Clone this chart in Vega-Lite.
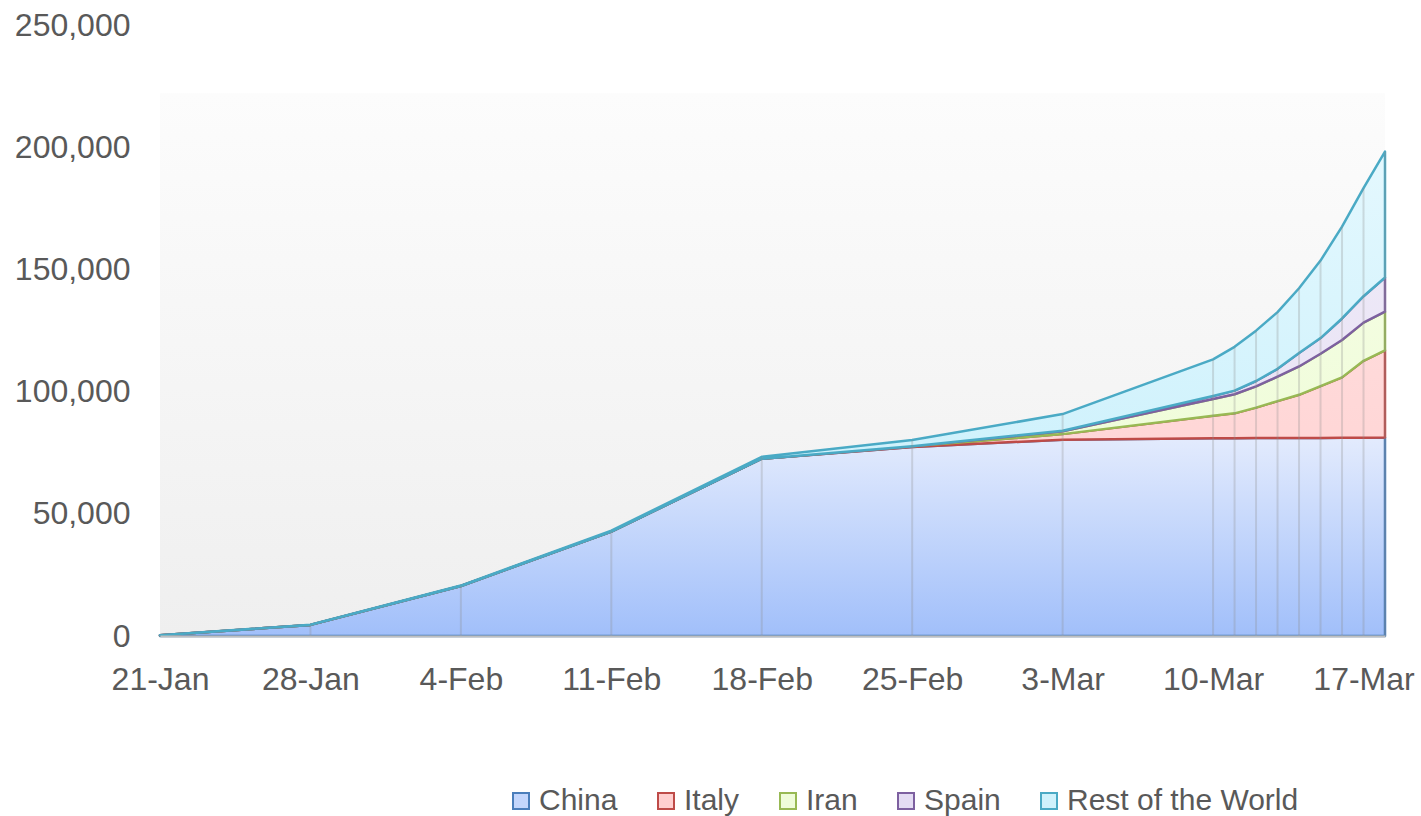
{
  "$schema": "https://vega.github.io/schema/vega-lite/v6.json",
  "width": 1225,
  "height": 611,
  "autosize": {"type": "none"},
  "padding": {"left": 160, "top": 25, "right": 36, "bottom": 180},
  "background": "#ffffff",
  "config": {"view": {"stroke": null}, "font": "Liberation Sans"},
  "data": {"values": [
    {"date": "2020-01-21", "series": "China", "k": 1, "value": 278},
    {"date": "2020-01-21", "series": "Italy", "k": 2, "value": 0},
    {"date": "2020-01-21", "series": "Iran", "k": 3, "value": 0},
    {"date": "2020-01-21", "series": "Spain", "k": 4, "value": 0},
    {"date": "2020-01-21", "series": "Rest of the World", "k": 5, "value": 4},
    {"date": "2020-01-28", "series": "China", "k": 1, "value": 4537},
    {"date": "2020-01-28", "series": "Italy", "k": 2, "value": 0},
    {"date": "2020-01-28", "series": "Iran", "k": 3, "value": 0},
    {"date": "2020-01-28", "series": "Spain", "k": 4, "value": 0},
    {"date": "2020-01-28", "series": "Rest of the World", "k": 5, "value": 56},
    {"date": "2020-02-04", "series": "China", "k": 1, "value": 20471},
    {"date": "2020-02-04", "series": "Italy", "k": 2, "value": 2},
    {"date": "2020-02-04", "series": "Iran", "k": 3, "value": 0},
    {"date": "2020-02-04", "series": "Spain", "k": 4, "value": 1},
    {"date": "2020-02-04", "series": "Rest of the World", "k": 5, "value": 159},
    {"date": "2020-02-11", "series": "China", "k": 1, "value": 42708},
    {"date": "2020-02-11", "series": "Italy", "k": 2, "value": 3},
    {"date": "2020-02-11", "series": "Iran", "k": 3, "value": 0},
    {"date": "2020-02-11", "series": "Spain", "k": 4, "value": 2},
    {"date": "2020-02-11", "series": "Rest of the World", "k": 5, "value": 393},
    {"date": "2020-02-18", "series": "China", "k": 1, "value": 72528},
    {"date": "2020-02-18", "series": "Italy", "k": 2, "value": 3},
    {"date": "2020-02-18", "series": "Iran", "k": 3, "value": 0},
    {"date": "2020-02-18", "series": "Spain", "k": 4, "value": 2},
    {"date": "2020-02-18", "series": "Rest of the World", "k": 5, "value": 799},
    {"date": "2020-02-25", "series": "China", "k": 1, "value": 77362},
    {"date": "2020-02-25", "series": "Italy", "k": 2, "value": 229},
    {"date": "2020-02-25", "series": "Iran", "k": 3, "value": 61},
    {"date": "2020-02-25", "series": "Spain", "k": 4, "value": 2},
    {"date": "2020-02-25", "series": "Rest of the World", "k": 5, "value": 2540},
    {"date": "2020-03-03", "series": "China", "k": 1, "value": 80304},
    {"date": "2020-03-03", "series": "Italy", "k": 2, "value": 2300},
    {"date": "2020-03-03", "series": "Iran", "k": 3, "value": 1200},
    {"date": "2020-03-03", "series": "Spain", "k": 4, "value": 200},
    {"date": "2020-03-03", "series": "Rest of the World", "k": 5, "value": 6800},
    {"date": "2020-03-10", "series": "China", "k": 1, "value": 80924},
    {"date": "2020-03-10", "series": "Italy", "k": 2, "value": 9172},
    {"date": "2020-03-10", "series": "Iran", "k": 3, "value": 6900},
    {"date": "2020-03-10", "series": "Spain", "k": 4, "value": 1200},
    {"date": "2020-03-10", "series": "Rest of the World", "k": 5, "value": 15000},
    {"date": "2020-03-11", "series": "China", "k": 1, "value": 80955},
    {"date": "2020-03-11", "series": "Italy", "k": 2, "value": 10149},
    {"date": "2020-03-11", "series": "Iran", "k": 3, "value": 7800},
    {"date": "2020-03-11", "series": "Spain", "k": 4, "value": 1500},
    {"date": "2020-03-11", "series": "Rest of the World", "k": 5, "value": 17900},
    {"date": "2020-03-12", "series": "China", "k": 1, "value": 80981},
    {"date": "2020-03-12", "series": "Italy", "k": 2, "value": 12462},
    {"date": "2020-03-12", "series": "Iran", "k": 3, "value": 8700},
    {"date": "2020-03-12", "series": "Spain", "k": 4, "value": 2200},
    {"date": "2020-03-12", "series": "Rest of the World", "k": 5, "value": 20600},
    {"date": "2020-03-13", "series": "China", "k": 1, "value": 80991},
    {"date": "2020-03-13", "series": "Italy", "k": 2, "value": 15113},
    {"date": "2020-03-13", "series": "Iran", "k": 3, "value": 10000},
    {"date": "2020-03-13", "series": "Spain", "k": 4, "value": 3200},
    {"date": "2020-03-13", "series": "Rest of the World", "k": 5, "value": 23200},
    {"date": "2020-03-14", "series": "China", "k": 1, "value": 81021},
    {"date": "2020-03-14", "series": "Italy", "k": 2, "value": 17660},
    {"date": "2020-03-14", "series": "Iran", "k": 3, "value": 11600},
    {"date": "2020-03-14", "series": "Spain", "k": 4, "value": 5500},
    {"date": "2020-03-14", "series": "Rest of the World", "k": 5, "value": 26500},
    {"date": "2020-03-15", "series": "China", "k": 1, "value": 81048},
    {"date": "2020-03-15", "series": "Italy", "k": 2, "value": 21157},
    {"date": "2020-03-15", "series": "Iran", "k": 3, "value": 13300},
    {"date": "2020-03-15", "series": "Spain", "k": 4, "value": 6400},
    {"date": "2020-03-15", "series": "Rest of the World", "k": 5, "value": 31700},
    {"date": "2020-03-16", "series": "China", "k": 1, "value": 81077},
    {"date": "2020-03-16", "series": "Italy", "k": 2, "value": 24747},
    {"date": "2020-03-16", "series": "Iran", "k": 3, "value": 15300},
    {"date": "2020-03-16", "series": "Spain", "k": 4, "value": 8800},
    {"date": "2020-03-16", "series": "Rest of the World", "k": 5, "value": 37600},
    {"date": "2020-03-17", "series": "China", "k": 1, "value": 81116},
    {"date": "2020-03-17", "series": "Italy", "k": 2, "value": 31506},
    {"date": "2020-03-17", "series": "Iran", "k": 3, "value": 15600},
    {"date": "2020-03-17", "series": "Spain", "k": 4, "value": 10800},
    {"date": "2020-03-17", "series": "Rest of the World", "k": 5, "value": 44200},
    {"date": "2020-03-18", "series": "China", "k": 1, "value": 81174},
    {"date": "2020-03-18", "series": "Italy", "k": 2, "value": 35713},
    {"date": "2020-03-18", "series": "Iran", "k": 3, "value": 15800},
    {"date": "2020-03-18", "series": "Spain", "k": 4, "value": 14000},
    {"date": "2020-03-18", "series": "Rest of the World", "k": 5, "value": 51500}
  ]},
  "transform": [
    {"stack": "value", "groupby": ["date"], "sort": [{"field": "k", "order": "ascending"}], "as": ["lo", "hi"]}
  ],
  "encoding": {
    "x": {"field": "date", "type": "temporal", "title": null,
      "scale": {"type": "utc", "nice": false, "domain": [{"year": 2020, "month": 1, "date": 21, "utc": true}, {"year": 2020, "month": 3, "date": 18, "utc": true}]},
      "axis": {
        "values": [
          {"year": 2020, "month": 1, "date": 21, "utc": true},
          {"year": 2020, "month": 1, "date": 28, "utc": true},
          {"year": 2020, "month": 2, "date": 4, "utc": true},
          {"year": 2020, "month": 2, "date": 11, "utc": true},
          {"year": 2020, "month": 2, "date": 18, "utc": true},
          {"year": 2020, "month": 2, "date": 25, "utc": true},
          {"year": 2020, "month": 3, "date": 3, "utc": true},
          {"year": 2020, "month": 3, "date": 10, "utc": true},
          {"year": 2020, "month": 3, "date": 17, "utc": true}
        ],
        "labelExpr": "utcFormat(datum.value, '%-d-%b')",
        "grid": false, "ticks": false, "tickSize": 0, "zindex": 1,
        "domain": true, "domainColor": "#bfbfbf", "domainWidth": 2,
        "labelPadding": 28, "labelFontSize": 32, "labelColor": "#595959", "labelFont": "Liberation Sans",
        "labelOverlap": false, "labelBound": false, "labelFlush": false
      }
    },
    "y": {"field": "hi", "type": "quantitative", "title": null,
      "scale": {"domain": [0, 250000], "nice": false, "zero": true},
      "axis": {
        "values": [0, 50000, 100000, 150000, 200000, 250000],
        "labelExpr": "format(datum.value, ',')",
        "grid": false, "ticks": false, "tickSize": 0, "domain": false,
        "labelPadding": 30, "labelFontSize": 32, "labelColor": "#595959", "labelFont": "Liberation Sans",
        "labelOverlap": false, "labelBound": false, "labelFlush": false
      }
    }
  },
  "layer": [
    {
      "transform": [{"filter": "datum.k == 5"}],
      "mark": {"type": "rect", "fill": {"gradient": "linear", "x1": 0, "y1": 0, "x2": 0, "y2": 1, "stops": [{"offset": 0, "color": "#fcfcfc"}, {"offset": 1, "color": "#efefef"}]}},
      "encoding": {
        "x": {"datum": {"year": 2020, "month": 1, "date": 21, "utc": true}, "type": "temporal", "title": null},
        "x2": {"datum": {"year": 2020, "month": 3, "date": 18, "utc": true}},
        "y": {"datum": 0, "type": "quantitative", "title": null},
        "y2": {"datum": 222000}
      }
    },
    {
      "transform": [{"filter": "datum.k == 1"}],
      "mark": {"type": "area", "stroke": "#4a7ebb", "strokeWidth": 2.5, "strokeJoin": "round", "fill": {"gradient": "linear", "x1": 0, "y1": 0, "x2": 0, "y2": 1, "stops": [{"offset": 0, "color": "#e3ebfd"}, {"offset": 1, "color": "#a1bffa"}]}},
      "encoding": {"y2": {"field": "lo"}}
    },
    {
      "transform": [{"filter": "datum.k == 2"}],
      "mark": {"type": "area", "stroke": "#be4b48", "strokeWidth": 2.5, "strokeJoin": "round", "fill": {"gradient": "linear", "x1": 0, "y1": 0, "x2": 0, "y2": 1, "stops": [{"offset": 0, "color": "#ffdada"}, {"offset": 1, "color": "#ffcfcf"}]}},
      "encoding": {"y2": {"field": "lo"}}
    },
    {
      "transform": [{"filter": "datum.k == 3"}],
      "mark": {"type": "area", "stroke": "#98b954", "strokeWidth": 2.5, "strokeJoin": "round", "fill": {"gradient": "linear", "x1": 0, "y1": 0, "x2": 0, "y2": 1, "stops": [{"offset": 0, "color": "#f3fde0"}, {"offset": 1, "color": "#ebfbd2"}]}},
      "encoding": {"y2": {"field": "lo"}}
    },
    {
      "transform": [{"filter": "datum.k == 4"}],
      "mark": {"type": "area", "stroke": "#7d60a0", "strokeWidth": 2.5, "strokeJoin": "round", "fill": {"gradient": "linear", "x1": 0, "y1": 0, "x2": 0, "y2": 1, "stops": [{"offset": 0, "color": "#ede8f7"}, {"offset": 1, "color": "#e4dcf3"}]}},
      "encoding": {"y2": {"field": "lo"}}
    },
    {
      "transform": [{"filter": "datum.k == 5"}],
      "mark": {"type": "area", "stroke": "#4aaac5", "strokeWidth": 2.5, "strokeJoin": "round", "fill": {"gradient": "linear", "x1": 0, "y1": 0, "x2": 0, "y2": 1, "stops": [{"offset": 0, "color": "#e4f8fe"}, {"offset": 1, "color": "#c3eefb"}]}},
      "encoding": {"y2": {"field": "lo"}}
    },
    {
      "transform": [{"filter": "datum.k == 5"}],
      "mark": {"type": "rule", "color": "#8c8c8c", "opacity": 0.28, "strokeWidth": 2},
      "encoding": {"y2": {"datum": 0}}
    },
    {
      "transform": [{"filter": "datum.k > 99"}],
      "mark": {"type": "square", "size": 256, "strokeWidth": 2, "opacity": 1, "filled": true},
      "encoding": {
        "fill": {"field": "series", "type": "nominal",
          "scale": {"domain": ["China", "Italy", "Iran", "Spain", "Rest of the World"], "range": ["#c3d6fc", "#ffcfcf", "#effcd9", "#e4dcf3", "#cff2fc"]},
          "legend": {"orient": "none", "legendX": 346, "legendY": 761, "direction": "horizontal", "columns": 5, "columnPadding": 33, "title": null,
            "symbolType": "square", "symbolSize": 256, "symbolStrokeWidth": 2, "symbolOpacity": 1,
            "labelFontSize": 30, "labelFont": "Liberation Sans", "labelColor": "#595959", "labelOffset": 3, "labelLimit": 400}
        },
        "stroke": {"field": "series", "type": "nominal",
          "scale": {"domain": ["China", "Italy", "Iran", "Spain", "Rest of the World"], "range": ["#4a7ebb", "#be4b48", "#98b954", "#7d60a0", "#4aaac5"]},
          "legend": {"orient": "none", "legendX": 346, "legendY": 761, "direction": "horizontal", "columns": 5, "columnPadding": 33, "title": null,
            "symbolType": "square", "symbolSize": 256, "symbolStrokeWidth": 2, "symbolOpacity": 1,
            "labelFontSize": 30, "labelFont": "Liberation Sans", "labelColor": "#595959", "labelOffset": 3, "labelLimit": 400}
        }
      }
    }
  ]
}
